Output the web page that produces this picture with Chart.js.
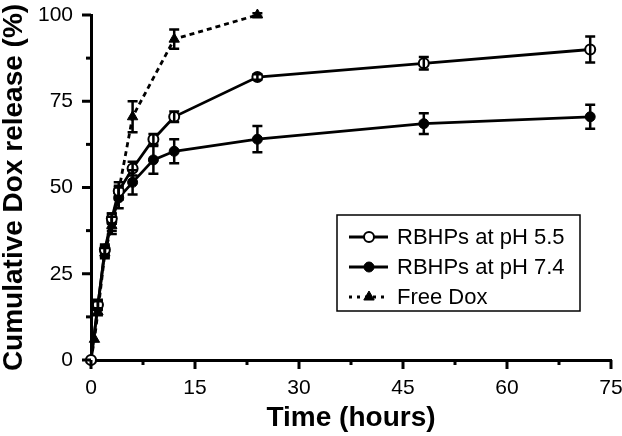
<!DOCTYPE html>
<html>
<head>
<meta charset="utf-8">
<script src="https://cdn.jsdelivr.net/npm/chart.js@4.4.1/dist/chart.umd.min.js"></script>
<style>
  html, body { margin: 0; padding: 0; background: #fff; }
  canvas { display: block; }
</style>
</head>
<body>
<canvas id="myChart" width="622" height="436"></canvas>
<script>
// release times (hours)
const tiempos = [0, 1, 2, 3, 4, 6, 9, 12, 24, 48, 72];
const tiemposDox = [0, 0.5, 1, 2, 3, 4, 6, 12, 24];

// cumulative release (%) and error bars
const ph55 = [0, 16, 32, 41, 49, 55.5, 64, 70.5, 82, 86, 90];
const ph55Err = [0, 1, 1.5, 1.5, 1.5, 2, 1.5, 1.5, 0.8, 1.8, 3.8];
const ph74 = [0, 16, 31.5, 40, 47, 51.5, 58, 60.5, 64, 68.5, 70.5];
const ph74Err = [0, 1.5, 1.5, 2.5, 3, 3.5, 4, 3.5, 3.8, 3, 3.5];
const dox = [0, 6, 14, 31, 39, 49, 70.5, 93, 100];
const doxErr = [0, 0, 1, 1.5, 2.5, 2.5, 4.5, 2.8, 0.5];

const etiquetas = ["RBHPs at pH 5.5", "RBHPs at pH 7.4", "Free Dox"];
const ticksY = [0, 25, 50, 75, 100];
const ticksX = [0, 15, 30, 45, 60, 75];

function puntos(xs, ys) {
  return xs.map((x, i) => ({ x: x, y: ys[i] }));
}

// error bars drawn through the scales
const barrasError = {
  id: "barrasError",
  afterDatasetsDraw(chart) {
    const ctx = chart.ctx;
    const escY = chart.scales.y;
    chart.data.datasets.forEach((ds, i) => {
      const meta = chart.getDatasetMeta(i);
      ctx.save();
      ctx.strokeStyle = "#000";
      ctx.lineWidth = 2.5;
      meta.data.forEach((p, j) => {
        const err = ds.errores[j];
        if (!err) return;
        const v = ds.data[j].y;
        const y1 = escY.getPixelForValue(v + err);
        const y2 = escY.getPixelForValue(v - err);
        ctx.beginPath();
        ctx.moveTo(p.x, y1);
        ctx.lineTo(p.x, y2);
        ctx.moveTo(p.x - 5, y1);
        ctx.lineTo(p.x + 5, y1);
        ctx.moveTo(p.x - 5, y2);
        ctx.lineTo(p.x + 5, y2);
        ctx.stroke();
      });
      ctx.restore();
    });
  },
};

// major / minor tick marks outside the axes
const marcas = {
  id: "marcas",
  afterDraw(chart) {
    const ctx = chart.ctx;
    const { x, y } = chart.scales;
    const area = chart.chartArea;
    ctx.save();
    ctx.strokeStyle = "#000";
    ctx.lineWidth = 3;
    x.ticks.forEach((t) => {
      const px = x.getPixelForValue(t.value);
      const largo = ticksX.includes(t.value) ? 9 : 5;
      ctx.beginPath();
      ctx.moveTo(px, area.bottom);
      ctx.lineTo(px, area.bottom + largo);
      ctx.stroke();
    });
    y.ticks.forEach((t) => {
      const py = y.getPixelForValue(t.value);
      const largo = ticksY.includes(t.value) ? 9 : 5;
      ctx.beginPath();
      ctx.moveTo(area.left, py);
      ctx.lineTo(area.left - largo, py);
      ctx.stroke();
    });
    ctx.restore();
  },
};

// boxed legend inside the plot
const leyenda = {
  id: "leyenda",
  afterDraw(chart) {
    const ctx = chart.ctx;
    const caja = { x: 337, y: 215, w: 243, h: 96 };
    ctx.save();
    ctx.strokeStyle = "#000";
    ctx.lineWidth = 1.5;
    ctx.strokeRect(caja.x, caja.y, caja.w, caja.h);
    chart.data.datasets.forEach((ds, i) => {
      const fy = caja.y + 22 + i * 30;
      ctx.strokeStyle = "#000";
      ctx.lineWidth = ds.borderWidth;
      ctx.setLineDash(i === 2 ? [3, 5] : []);
      ctx.beginPath();
      ctx.moveTo(349, fy);
      ctx.lineTo(388, fy);
      ctx.stroke();
      ctx.setLineDash([]);
      ctx.fillStyle = ds.pointBackgroundColor;
      ctx.lineWidth = ds.pointBorderWidth;
      Chart.helpers.drawPoint(
        ctx,
        { pointStyle: ds.pointStyle, radius: ds.pointRadius, rotation: 0, borderWidth: ds.pointBorderWidth },
        369,
        fy
      );
      ctx.fillStyle = "#000";
      ctx.font = "22px 'Liberation Sans', Arial, sans-serif";
      ctx.textBaseline = "middle";
      ctx.fillText(ds.label, 397, fy + 1);
    });
    ctx.restore();
  },
};

const fuenteTick = { family: "'Liberation Sans', Arial, sans-serif", size: 21 };
const fuenteTitulo = { family: "'Liberation Sans', Arial, sans-serif", size: 28, weight: "bold", lineHeight: 1 };

const config = {
  type: "scatter",
  data: {
    datasets: [
      {
        label: etiquetas[0],
        data: puntos(tiempos, ph55),
        errores: ph55Err,
        showLine: true,
        borderColor: "#000",
        borderWidth: 2.8,
        pointStyle: "circle",
        pointRadius: 5,
        pointBackgroundColor: "#fff",
        pointBorderColor: "#000",
        pointBorderWidth: 2,
        clip: false,
      },
      {
        label: etiquetas[1],
        data: puntos(tiempos, ph74),
        errores: ph74Err,
        showLine: true,
        borderColor: "#000",
        borderWidth: 2.8,
        pointStyle: "circle",
        pointRadius: 5,
        pointBackgroundColor: "#000",
        pointBorderColor: "#000",
        pointBorderWidth: 1,
        clip: false,
      },
      {
        label: etiquetas[2],
        data: puntos(tiemposDox, dox),
        errores: doxErr,
        showLine: true,
        borderColor: "#000",
        borderWidth: 2.8,
        borderDash: [5, 4],
        pointStyle: "triangle",
        pointRadius: 6,
        pointBackgroundColor: "#000",
        pointBorderColor: "#000",
        pointBorderWidth: 1,
        clip: false,
      },
    ],
  },
  options: {
    responsive: false,
    animation: false,
    devicePixelRatio: 1,
    layout: { padding: { top: 15, right: 11, left: 0, bottom: 0 } },
    plugins: { legend: { display: false }, tooltip: { enabled: false } },
    scales: {
      x: {
        type: "linear",
        min: 0,
        max: 75,
        afterFit: (s) => {
          s.height = 76;
          s.paddingLeft = 0;
          s.paddingRight = 0;
        },
        grid: { display: false },
        border: { display: true, color: "#000", width: 3 },
        ticks: {
          stepSize: 7.5,
          color: "#000",
          font: fuenteTick,
          padding: 8,
          maxRotation: 0,
          autoSkip: false,
          callback: (v) => (ticksX.includes(v) ? String(v) : ""),
        },
        title: { display: true, text: "Time (hours)", color: "#000", font: fuenteTitulo, padding: { top: 0, bottom: 4 } },
      },
      y: {
        min: 0,
        max: 100,
        afterFit: (s) => {
          s.width = 91;
          s.paddingTop = 0;
          s.paddingBottom = 0;
        },
        grid: { display: false },
        border: { display: true, color: "#000", width: 3 },
        ticks: {
          stepSize: 12.5,
          color: "#000",
          font: fuenteTick,
          padding: 10,
          autoSkip: false,
          callback: (v) => (ticksY.includes(v) ? String(v) : ""),
        },
        title: { display: true, text: "Cumulative Dox release (%)", color: "#000", font: fuenteTitulo, padding: { top: 0, bottom: 0 } },
      },
    },
  },
  plugins: [barrasError, marcas, leyenda],
};

new Chart(document.getElementById("myChart").getContext("2d"), config);
</script>
</body>
</html>
